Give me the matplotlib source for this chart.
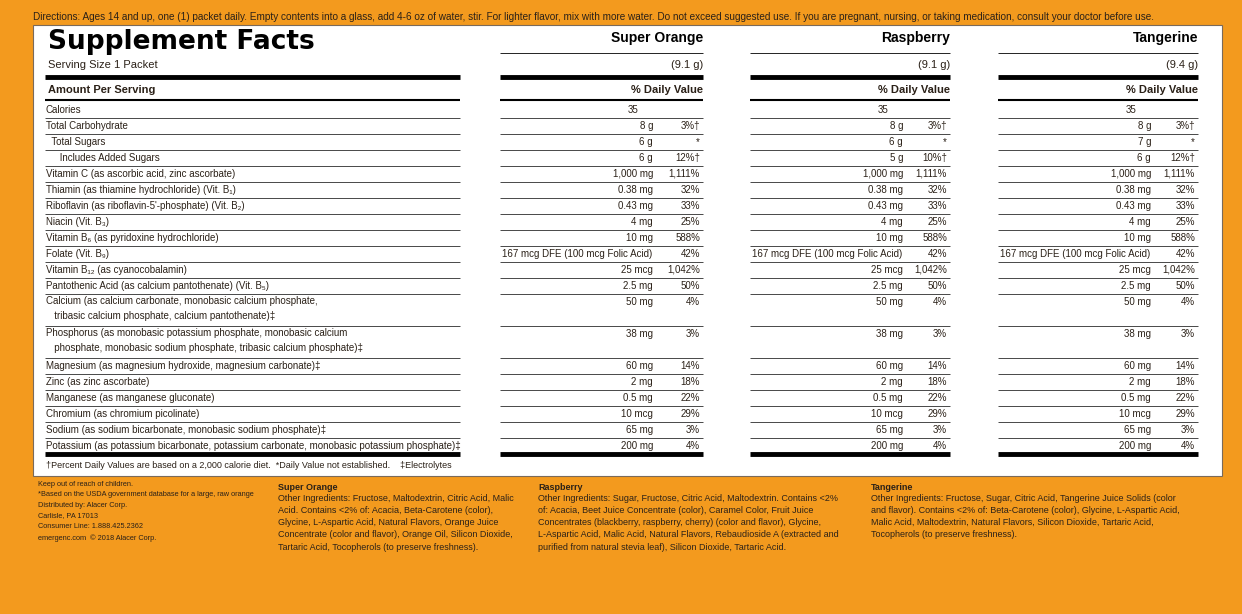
import matplotlib
matplotlib.use("Agg")
import matplotlib.pyplot as plt

plt.rcParams['font.family'] = ['Liberation Sans Narrow', 'Liberation Sans', 'DejaVu Sans']

nutrients = ["Calories", "Total Carbohydrate", "  Total Sugars", "     Includes Added Sugars",
             "Vitamin C (as ascorbic acid, zinc ascorbate)",
             "Thiamin (as thiamine hydrochloride) (Vit. B₁)",
             "Riboflavin (as riboflavin-5'-phosphate) (Vit. B₂)",
             "Niacin (Vit. B₃)", "Vitamin B₆ (as pyridoxine hydrochloride)", "Folate (Vit. B₉)",
             "Vitamin B₁₂ (as cyanocobalamin)", "Pantothenic Acid (as calcium pantothenate) (Vit. B₅)",
             "Calcium (as calcium carbonate, monobasic calcium phosphate,\n   tribasic calcium phosphate, calcium pantothenate)‡",
             "Phosphorus (as monobasic potassium phosphate, monobasic calcium\n   phosphate, monobasic sodium phosphate, tribasic calcium phosphate)‡",
             "Magnesium (as magnesium hydroxide, magnesium carbonate)‡", "Zinc (as zinc ascorbate)",
             "Manganese (as manganese gluconate)", "Chromium (as chromium picolinate)",
             "Sodium (as sodium bicarbonate, monobasic sodium phosphate)‡",
             "Potassium (as potassium bicarbonate, potassium carbonate, monobasic potassium phosphate)‡"]
common_amt = ["35", "8 g", None, None, "1,000 mg", "0.38 mg", "0.43 mg", "4 mg", "10 mg",
              "167 mcg DFE (100 mcg Folic Acid)", "25 mcg", "2.5 mg", "50 mg", "38 mg", "60 mg",
              "2 mg", "0.5 mg", "10 mcg", "65 mg", "200 mg"]
common_dv = ["", "3%†", "*", None, "1,111%", "32%", "33%", "25%", "588%", "42%", "1,042%", "50%",
             "4%", "3%", "14%", "18%", "22%", "29%", "3%", "4%"]
products = ["Super Orange", "Raspberry", "Tangerine"]
serving = ["(9.1 g)", "(9.1 g)", "(9.4 g)"]
sugars_amt = ["6 g", "6 g", "7 g"]
added_amt = ["6 g", "5 g", "6 g"]
added_dv = ["12%†", "10%†", "12%†"]

BG = '#F39A1E'
INK = '#2b2118'
fig = plt.figure(figsize=(12.42, 6.14), dpi=100, facecolor=BG)
ax = fig.add_axes([0, 0, 1, 1])
ax.set_xlim(0, 1242); ax.set_ylim(614, 0); ax.axis('off')
ax.add_patch(plt.Rectangle((0, 0), 1242, 614, color=BG, zorder=0))
ax.add_patch(plt.Rectangle((33, 25), 1189, 451, facecolor='white', edgecolor='#7a6a5a', lw=0.8, zorder=1))

ax.text(33, 17, "Directions: Ages 14 and up, one (1) packet daily. Empty contents into a glass, add 4-6 oz of water, stir. For lighter flavor, mix with more water. Do not exceed suggested use. If you are pregnant, nursing, or taking medication, consult your doctor before use.",
        fontsize=7.2, color=INK, va='center', ha='left', zorder=3)
ax.text(48, 42, "Supplement Facts", fontsize=19, fontweight='bold', family=['DejaVu Sans'], color='black', va='center', zorder=3)
ax.text(48, 65, "Serving Size 1 Packet", fontsize=8, va='center', color=INK, zorder=3)
ax.text(48, 90, "Amount Per Serving", fontsize=8, fontweight='bold', va='center', color=INK, zorder=3)

lab = (45, 460)
cols = [(500, 703), (750, 950), (998, 1198)]

def hline(y, x0, x1, lw):
    ax.plot([x0, x1], [y, y], color='black', lw=lw, zorder=3, solid_capstyle='butt')

for x0, x1 in [lab] + cols:
    hline(77, x0, x1, 3.5)
    hline(100, x0, x1, 1.5)
    hline(454, x0, x1, 3.5)

for i, (x0, x1) in enumerate(cols):
    ax.text(x1, 38, products[i], fontsize=10, fontweight='bold', ha='right', va='center', color='black', zorder=3)
    ax.text(x1, 65, serving[i], fontsize=8, ha='right', va='center', color=INK, zorder=3)
    hline(53, x0, x1, 0.6)
    ax.text(x1, 90, "% Daily Value", fontsize=8, fontweight='bold', ha='right', va='center', color=INK, zorder=3)

heights = [1] * len(nutrients)
heights[12] = 2; heights[13] = 2
y = 110
for k, name in enumerate(nutrients):
    h = heights[k]
    if h == 2:
        ax.text(46, y - 6, name, fontsize=7, va='top', color=INK, zorder=3, linespacing=1.6)
    else:
        ax.text(46, y, name, fontsize=7, va='center', color=INK, zorder=3)
    for i, (x0, x1) in enumerate(cols):
        amt = common_amt[k]; dv = common_dv[k]
        if k == 2: amt = sugars_amt[i]
        if k == 3: amt, dv = added_amt[i], added_dv[i]
        if k == 0:
            ax.text(x0 + 133, y, amt, fontsize=7, ha='center', va='center', color=INK, zorder=3)
        elif k == 9:
            ax.text(x0 + 2, y, amt, fontsize=7, ha='left', va='center', color=INK, zorder=3)
        else:
            ax.text(x0 + 153, y, amt, fontsize=7, ha='right', va='center', color=INK, zorder=3)
        ax.text(x1 - 3, y, dv, fontsize=7, ha='right', va='center', color=INK, zorder=3)
    yb = y + 8 + (h - 1) * 16
    if k < len(nutrients) - 1:
        for x0, x1 in [lab] + cols:
            hline(yb, x0, x1, 0.5)
    y += 16 * h

ax.text(46, 466, "†Percent Daily Values are based on a 2,000 calorie diet.  *Daily Value not established.    ‡Electrolytes",
        fontsize=6.5, va='center', color=INK, zorder=3)

left_txt = ("Keep out of reach of children.\n*Based on the USDA government database for a large, raw orange\nDistributed by: Alacer Corp.\n"
            "Carlisle, PA 17013\nConsumer Line: 1.888.425.2362\nemergenc.com  © 2018 Alacer Corp.")
ax.text(38, 481, left_txt, fontsize=5.3, va='top', color=INK, linespacing=1.7, zorder=3)

blocks = [
 (278, "Super Orange", "Other Ingredients: Fructose, Maltodextrin, Citric Acid, Malic\nAcid. Contains <2% of: Acacia, Beta-Carotene (color),\nGlycine, L-Aspartic Acid, Natural Flavors, Orange Juice\nConcentrate (color and flavor), Orange Oil, Silicon Dioxide,\nTartaric Acid, Tocopherols (to preserve freshness)."),
 (538, "Raspberry", "Other Ingredients: Sugar, Fructose, Citric Acid, Maltodextrin. Contains <2%\nof: Acacia, Beet Juice Concentrate (color), Caramel Color, Fruit Juice\nConcentrates (blackberry, raspberry, cherry) (color and flavor), Glycine,\nL-Aspartic Acid, Malic Acid, Natural Flavors, Rebaudioside A (extracted and\npurified from natural stevia leaf), Silicon Dioxide, Tartaric Acid."),
 (871, "Tangerine", "Other Ingredients: Fructose, Sugar, Citric Acid, Tangerine Juice Solids (color\nand flavor). Contains <2% of: Beta-Carotene (color), Glycine, L-Aspartic Acid,\nMalic Acid, Maltodextrin, Natural Flavors, Silicon Dioxide, Tartaric Acid,\nTocopherols (to preserve freshness)."),
]
for x, title, body in blocks:
    ax.text(x, 487, title, fontsize=6.5, fontweight='bold', va='center', color=INK, zorder=3)
    ax.text(x, 494, body, fontsize=6.5, va='top', color=INK, linespacing=1.45, zorder=3)

fig.savefig("out.png", dpi=100, facecolor=BG)
